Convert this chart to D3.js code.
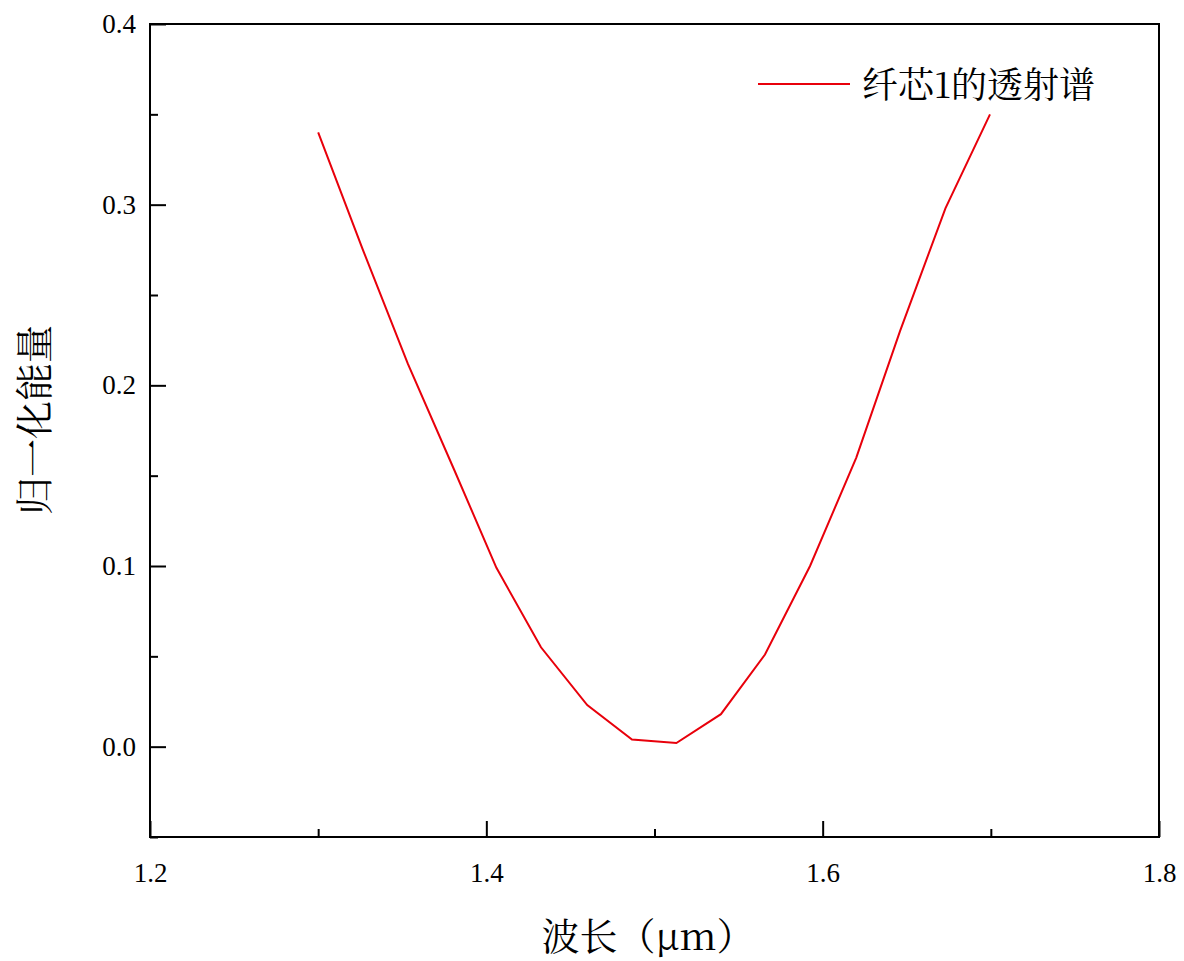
<!DOCTYPE html><html><head><meta charset="utf-8"><script src="https://cdn.jsdelivr.net/npm/d3@7"></script>
<style>body{margin:0;background:#fff}</style></head><body><svg id="c" width="1184" height="961"></svg><script>
const wavelength=[1.3,1.3266,1.3533,1.381,1.406,1.4325,1.460,1.4866,1.513,1.5395,1.5657,1.5925,1.62,1.646,1.673,1.6995];
const energy=[0.340,0.275,0.212,0.153,0.099,0.055,0.023,0.004,0.002,0.018,0.051,0.100,0.160,0.230,0.298,0.350];
const xTicks=[1.2,1.4,1.6,1.8], yTicks=[0.0,0.1,0.2,0.3,0.4];
const seriesName="纤芯1的透射谱";
const svg=d3.select("#c");
const L=150,R=1159,T=24,B=837;
const x=d3.scaleLinear().domain([1.2,1.8]).range([L,R]);
const y=d3.scaleLinear().domain([-0.05,0.4]).range([B,T]);
const f="'Liberation Serif','Times New Roman',serif";
const cjk="'Noto Serif CJK SC','Noto Sans CJK SC',serif";
svg.append("rect").attr("x",L).attr("y",T).attr("width",R-L).attr("height",B-T).attr("fill","none").attr("stroke","#000").attr("stroke-width",2);
const gx=svg.append("g").attr("transform",`translate(0,${B})`).call(d3.axisBottom(x).tickValues(xTicks).tickSize(-16).tickPadding(26).tickFormat(d3.format(".1f")));
const gx2=svg.append("g").attr("transform",`translate(0,${B})`).call(d3.axisBottom(x).tickValues([1.3,1.5,1.7]).tickSize(-8).tickFormat(""));
const gy=svg.append("g").attr("transform",`translate(${L},0)`).call(d3.axisLeft(y).tickValues(yTicks).tickSize(-16).tickPadding(14).tickFormat(d3.format(".1f")));
const gy2=svg.append("g").attr("transform",`translate(${L},0)`).call(d3.axisLeft(y).tickValues([-0.05,0.05,0.15,0.25,0.35]).tickSize(-8).tickFormat(""));
[gx,gx2,gy,gy2].forEach(g=>{g.attr("font-size",null).attr("font-family",null);g.select(".domain").remove();g.selectAll("line").attr("stroke","#000").attr("stroke-width",2);g.selectAll("text").style("font-family",f).style("font-size","27px").attr("fill","#000");});
svg.append("path").datum(wavelength.map((w,i)=>[w,energy[i]])).attr("fill","none").attr("stroke","#e8000b").attr("stroke-width",2)
 .attr("d",d3.line().x(d=>x(d[0])).y(d=>y(d[1])));
svg.append("line").attr("x1",758).attr("x2",850).attr("y1",84).attr("y2",84).attr("stroke","#e8000b").attr("stroke-width",2);
svg.append("text").attr("x",862).attr("y",98).style("font-family",cjk).style("font-size","36px").text(seriesName);
svg.append("text").attr("x",648).attr("y",950).attr("text-anchor","middle").style("font-family",cjk).style("font-size","38px").text("波长（μm）");
svg.append("text").attr("transform",`translate(48,${420}) rotate(-90)`).attr("text-anchor","middle").style("font-family",cjk).style("font-size","38px").text("归一化能量");
</script></body></html>
